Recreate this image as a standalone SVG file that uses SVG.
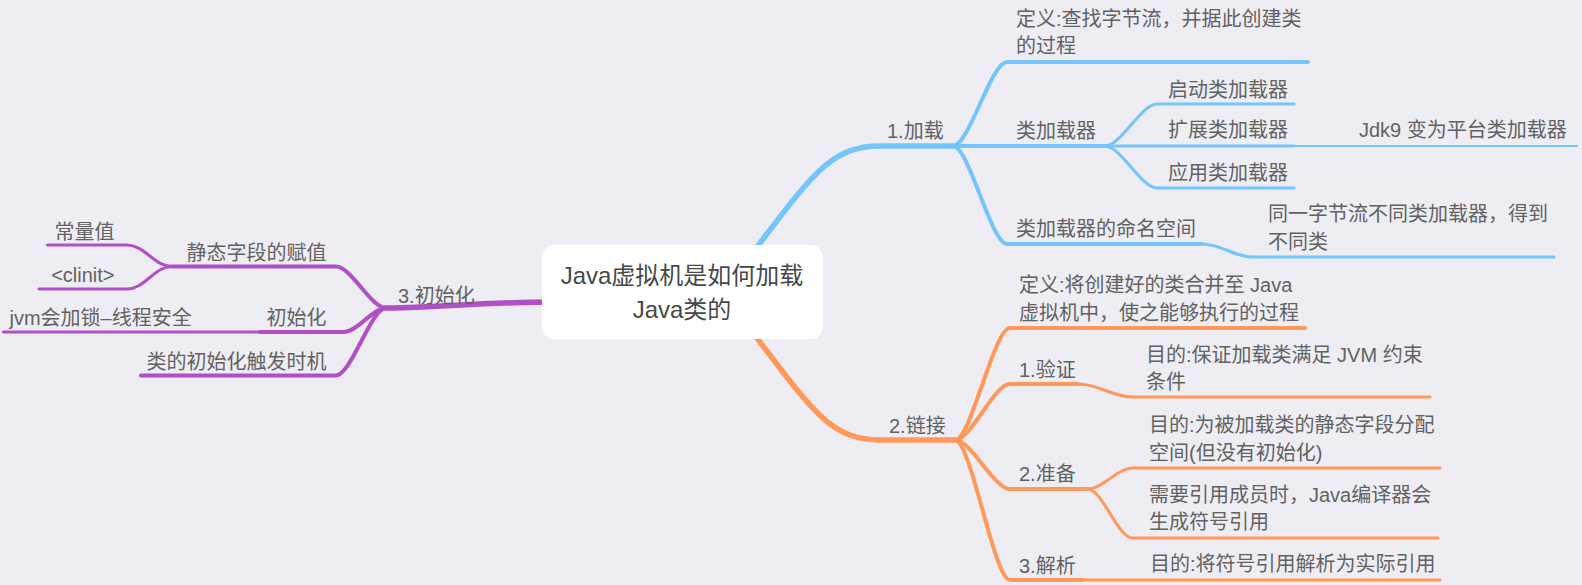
<svg xmlns="http://www.w3.org/2000/svg" width="1582" height="585" viewBox="0 0 1582 585">
<style>
text{font-family:"Liberation Sans","Noto Sans CJK SC",sans-serif;font-size:20px;fill:#626262}
.e{text-anchor:end}
.c{text-anchor:middle;font-size:24px;fill:#474747}
path{fill:none;stroke-linecap:round;stroke-linejoin:round}
.b{stroke:#74C5FB}.o{stroke:#FF9858}.p{stroke:#B04FC6}
.w6{stroke-width:5.5}.w4{stroke-width:4}.w3{stroke-width:3}.w2{stroke-width:2}
</style>
<rect width="1582" height="585" fill="#EDEDF3"/>
<g id="connectors">
<path class="b w6" d="M715,300 C805,190 820,146 880,146 L953,146"/>
<path class="o w6" d="M715,285 C805,395 820,440 880,440 L955,440"/>
<path class="p w6" d="M386,308 C450,307 480,302 560,302 L620,302"/>
<path class="p w4" d="M386,308 C371,308 351,266.5 336,266.5 L172,266.5"/>
<path class="p w4" d="M386,308 C373,308 357,332 344,332 L260,332"/>
<path class="p w4" d="M386,308 C371,308 351,375.5 336,375.5 L141,375.5"/>
<path class="p w3" d="M172,266.5 C154,266.5 145,245 127,245 L47.5,245"/>
<path class="p w3" d="M172,266.5 C154,266.5 145,289 127,289 L39,289"/>
<path class="p w3" d="M260,332 L3.5,332"/>
<path class="b w4" d="M953,146 C969,146 991,62 1007,62 L1308,62"/>
<path class="b w4" d="M953,146 L1105,146"/>
<path class="b w4" d="M953,146 C969,146 991,244 1007,244 L1202,244"/>
<path class="b w3" d="M1105,146 C1121,146 1141,104 1157,104 L1294,104"/>
<path class="b w3" d="M1105,146 L1294,146"/>
<path class="b w3" d="M1105,146 C1121,146 1141,188 1157,188 L1294,188"/>
<path class="b w2" d="M1294,146 L1577,146"/>
<path class="b w3" d="M1202,244 C1222,244 1233,257 1253,257 L1554,257"/>
<path class="o w4" d="M955,440 C971,440 994,328 1010,328 L1305,328"/>
<path class="o w4" d="M955,440 C971,440 994,384 1010,384 L1078,384"/>
<path class="o w3" d="M1078,384 C1100,384 1111,397 1133,397 L1430,397"/>
<path class="o w4" d="M955,440 C971,440 994,489 1010,489 L1087,489"/>
<path class="o w3" d="M1087,489 C1103,489 1117,468 1133,468 L1440,468"/>
<path class="o w3" d="M1087,489 C1103,489 1117,538 1133,538 L1438,538"/>
<path class="o w4" d="M955,440 C971,440 994,580 1010,580 L1083,580"/>
<path class="o w3" d="M1083,580 L1440,580"/>
</g>
<g id="root">
<rect x="542" y="245" width="281" height="94" rx="12" fill="#ffffff"/>
<text class="c" x="682" y="284">Java虚拟机是如何加载</text>
<text class="c" x="682" y="318">Java类的</text>
</g>
<g id="n-init"><text x="398" y="303">3.初始化</text></g>
<g id="n-static"><text class="e" x="326.5" y="260">静态字段的赋值</text></g>
<g id="n-const"><text class="e" x="114.5" y="238.5">常量值</text></g>
<g id="n-clinit"><text class="e" x="114.5" y="282">&lt;clinit&gt;</text></g>
<g id="n-init2"><text class="e" x="326.5" y="324.5">初始化</text></g>
<g id="n-jvm"><text x="9.5" y="324.5">jvm会加锁–线程安全</text></g>
<g id="n-trigger"><text class="e" x="326.5" y="368.5">类的初始化触发时机</text></g>
<g id="n-load"><text x="887" y="138">1.加载</text></g>
<g id="n-loaddef"><text x="1016" y="26">定义:查找字节流，并据此创建类</text><text x="1016" y="53">的过程</text></g>
<g id="n-loader"><text x="1016" y="138">类加载器</text></g>
<g id="n-boot"><text x="1168" y="97">启动类加载器</text></g>
<g id="n-ext"><text x="1168" y="137">扩展类加载器</text></g>
<g id="n-jdk9"><text x="1359" y="137">Jdk9 变为平台类加载器</text></g>
<g id="n-app"><text x="1168" y="180">应用类加载器</text></g>
<g id="n-ns"><text x="1016" y="236">类加载器的命名空间</text></g>
<g id="n-ns1"><text x="1268" y="221">同一字节流不同类加载器，得到</text><text x="1268" y="249">不同类</text></g>
<g id="n-link"><text x="889" y="433">2.链接</text></g>
<g id="n-linkdef"><text x="1019" y="292">定义:将创建好的类合并至 Java</text><text x="1019" y="320">虚拟机中，使之能够执行的过程</text></g>
<g id="n-verify"><text x="1019" y="377">1.验证</text></g>
<g id="n-verify1"><text x="1146" y="362">目的:保证加载类满足 JVM 约束</text><text x="1146" y="389">条件</text></g>
<g id="n-prepare"><text x="1019" y="481">2.准备</text></g>
<g id="n-prep1"><text x="1149" y="432">目的:为被加载类的静态字段分配</text><text x="1149" y="460">空间(但没有初始化)</text></g>
<g id="n-prep2"><text x="1149" y="502">需要引用成员时，Java编译器会</text><text x="1149" y="529">生成符号引用</text></g>
<g id="n-resolve"><text x="1019" y="573">3.解析</text></g>
<g id="n-resolve1"><text x="1150" y="571">目的:将符号引用解析为实际引用</text></g>
</svg>
